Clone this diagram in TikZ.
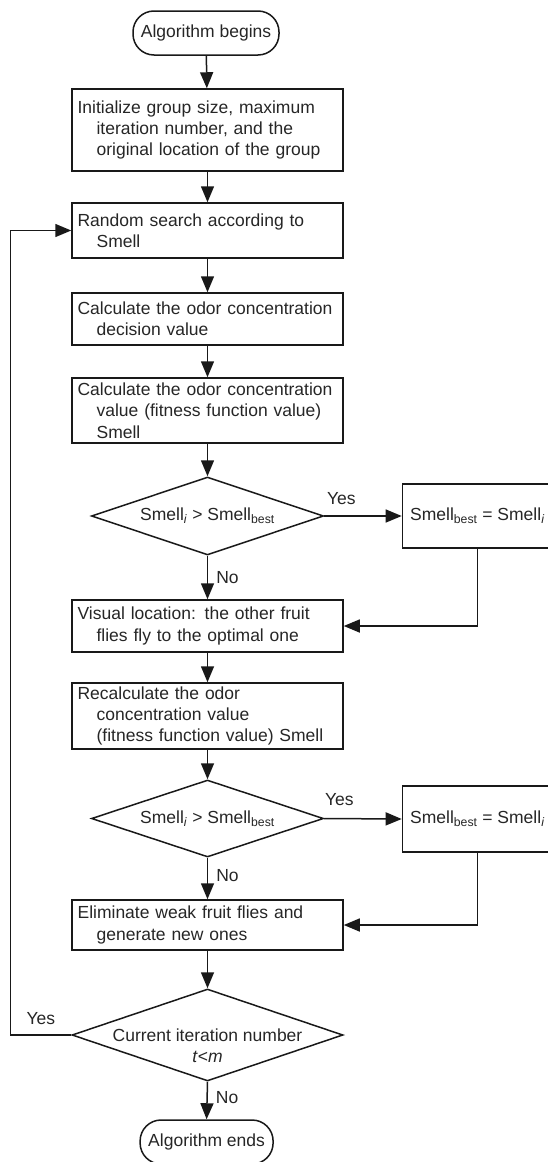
\documentclass[tikz,border=0pt]{standalone}
\usepackage{fontspec}
\setmainfont{Liberation Sans}
\usetikzlibrary{arrows.meta,shapes.geometric,positioning}
\tikzset{
  every node/.style={font=\fontsize{17.5}{21.3}\selectfont,text=black!85},
  box/.style={draw=black!90,line width=1.5pt,text width=259.8pt,inner xsep=5.6pt,inner ysep=0pt,align=left},
  term/.style={draw=black!90,line width=1.5pt,rounded corners=21pt,inner xsep=6pt,inner ysep=0pt,minimum height=44pt},
  dec/.style={draw=black!90,diamond,aspect=3,line width=1.5pt,inner sep=0pt},
  lbl/.style={inner sep=0pt},
  arr/.style={draw=black!90,line width=1.5pt,-{Triangle[length=16pt,width=13pt]}}
}
\newcommand{\ind}{\hspace*{19pt}}
\newcommand{\smi}{Smell\textsubscript{\textit{i}}}
\newcommand{\smb}{Smell\textsubscript{best}}

\begin{document}
\begin{tikzpicture}[x=1pt,y=-1pt]
  \useasboundingbox (0,0) rectangle (547,1162);
  \node[term,minimum width=146pt] (begin) at (206,33) {Algorithm begins};
  \node[box,minimum height=82pt] (init) at (207.5,130)
    {Initialize group size, maximum\\\ind iteration number, and the\\\ind original location of the group};
  \node[box,minimum height=55pt] (search) at (207.5,230.5)
    {Random search according to\\\ind Smell};
  \node[box,minimum height=52pt] (decis) at (207.5,319)
    {Calculate the odor concentration\\\ind decision value};
  \node[box,minimum height=65pt] (fit) at (207.5,410.5)
    {Calculate the odor concentration\\\ind value (fitness function value)\\\ind Smell};
  \node[dec,minimum width=232pt,minimum height=78pt] (d1) at (207.5,516) {\smi\ > \smb};
  \node[box,text width=,minimum width=150pt,minimum height=64pt,inner xsep=7pt,anchor=west] (best1) at (401.7,516) {\smb\ = \smi};
  \node[box,minimum height=52pt] (vis) at (207.5,626)
    {Visual location: the other fruit\\\ind flies fly to the optimal one};
  \node[box,minimum height=66pt] (recalc) at (207.5,716)
    {Recalculate the odor\\\ind concentration value\\\ind (fitness function value) Smell};
  \node[dec,minimum width=232pt,minimum height=77pt] (d2) at (207.5,818.5) {\smi\ > \smb};
  \node[box,text width=,minimum width=150pt,minimum height=66pt,inner xsep=7pt,anchor=west] (best2) at (401.7,819) {\smb\ = \smi};
  \node[box,minimum height=50pt] (elim) at (207.5,925)
    {Eliminate weak fruit flies and\\\ind generate new ones};
  \node[dec,minimum width=271pt,minimum height=92pt,
    label={[align=center,yshift=-10.5pt]center:{Current iteration number\\\textit{t}<\textit{m}}}] (d3) at (207.5,1035) {};
  \node[term,minimum width=133pt] (end) at (206.6,1142) {Algorithm ends};
  \coordinate (lp) at (10.5,1035);

  \draw[arr] (begin) -- (init);
  \draw[arr] (init) -- (search);
  \draw[arr] (search) -- (decis);
  \draw[arr] (decis) -- (fit);
  \draw[arr] (fit) -- (d1);
  \draw[arr] (d1.east) -- node[lbl,pos=0,anchor=base west,xshift=2pt,yshift=12pt] {Yes} (best1.west);
  \draw[arr] (d1.south) -- node[lbl,pos=0.49,anchor=west,xshift=8pt] {No} (vis.north);
  \draw[arr] (best1.south) |- (vis.east);
  \draw[arr] (vis) -- (recalc);
  \draw[arr] (recalc) -- (d2);
  \draw[arr] (d2.east) -- node[lbl,pos=0,anchor=base west,xshift=0pt,yshift=13pt] {Yes} (best2.west);
  \draw[arr] (d2.south) -- node[lbl,pos=0.43,anchor=west,xshift=8pt] {No} (elim.north);
  \draw[arr] (best2.south) |- (elim.east);
  \draw[arr] (elim) -- (d3);
  \draw[arr] (d3.west) -- node[lbl,midway,anchor=base,yshift=11pt] {Yes} (lp) |- (search.west);
  \draw[arr] (d3.south) -- node[lbl,pos=0.41,anchor=west,xshift=8pt] {No} (end.north);
\end{tikzpicture}
\end{document}
